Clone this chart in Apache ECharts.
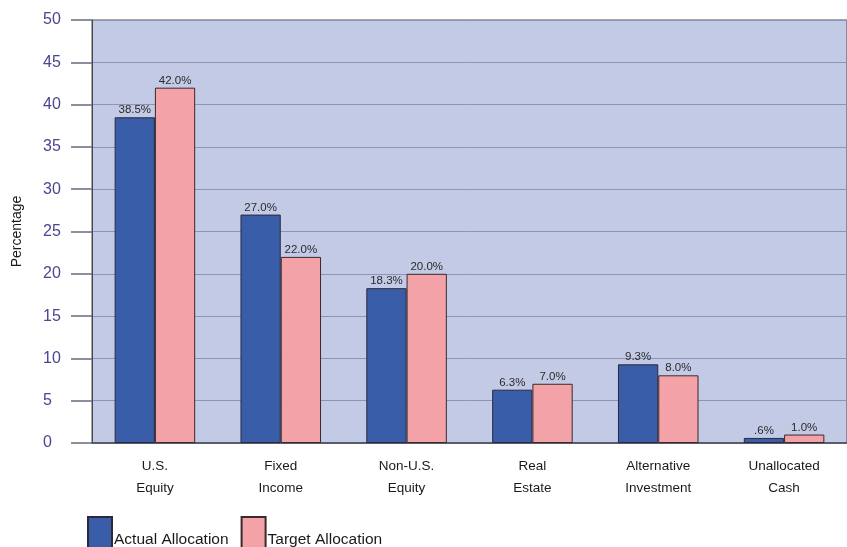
<!DOCTYPE html>
<html>
<head>
<meta charset="utf-8">
<script src="https://cdn.jsdelivr.net/npm/echarts@6/dist/echarts.min.js"></script>
<style>
html,body{margin:0;padding:0;background:#fff;}
#c{width:847px;height:547px;}
</style>
</head>
<body>
<div id="c"></div>
<script>
var categories = ['U.S.\nEquity', 'Fixed\nIncome', 'Non-U.S.\nEquity', 'Real\nEstate', 'Alternative\nInvestment', 'Unallocated\nCash'];
var actualValues = [38.5, 27.0, 18.3, 6.3, 9.3, 0.6];
var targetValues = [42.0, 22.0, 20.0, 7.0, 8.0, 1.0];
var actualLabels = ['38.5%', '27.0%', '18.3%', '6.3%', '9.3%', '.6%'];
var targetLabels = ['42.0%', '22.0%', '20.0%', '7.0%', '8.0%', '1.0%'];
var seriesNames = ['Actual Allocation', 'Target Allocation'];
var yTicks = [0, 5, 10, 15, 20, 25, 30, 35, 40, 45, 50];

var FONT = '"Liberation Sans", Arial, sans-serif';
var chart = echarts.init(document.getElementById('c'));
function lbl(arr) {
  return {
    show: true, position: 'top', distance: 1,
    color: '#2a2a2a', fontFamily: FONT, fontSize: 11.5,
    formatter: function (p) { return arr[p.dataIndex]; }
  };
}
chart.setOption({
  animation: false,
  grid: {
    left: 92, top: 20, right: 0, bottom: 104,
    show: true, backgroundColor: '#c3cae6', borderColor: '#4a4a4a', borderWidth: 1
  },
  legend: {
    left: 87, top: 516, padding: 0,
    itemWidth: 24, itemHeight: 32, itemGap: 12,
    icon: 'rect',
    formatter: '{t|{name}}',
    textStyle: {
      rich: { t: { fontFamily: FONT, fontSize: 15.5, color: '#1a1a1a', padding: [14, 0, 0, -3] } }
    },
    data: seriesNames
  },
  xAxis: {
    type: 'category',
    data: categories,
    axisLine: { lineStyle: { color: '#4a4a5a', width: 1.5 } },
    axisTick: { show: false },
    axisLabel: { fontFamily: FONT, fontSize: 13.5, color: '#1a1a1a', lineHeight: 22, margin: 12 }
  },
  yAxis: {
    type: 'value',
    min: yTicks[0], max: yTicks[yTicks.length - 1], interval: 5,
    name: 'Percentage', nameLocation: 'middle', nameGap: 68, nameRotate: 90,
    nameTextStyle: { fontFamily: FONT, fontSize: 14, color: '#1a1a1a' },
    axisLine: { show: true, lineStyle: { color: '#4a4a4a' } },
    axisTick: { show: true, length: 21, lineStyle: { color: '#6a6a80', width: 1.5 } },
    axisLabel: { fontFamily: FONT, fontSize: 16, color: '#4a4690', margin: 49, align: 'left' },
    splitLine: { lineStyle: { color: '#8f94b4', width: 1 } }
  },
  series: [
    {
      name: seriesNames[0], type: 'bar', data: actualValues,
      barWidth: '32%', barGap: '0%',
      itemStyle: { color: '#3a5daa', borderColor: '#2a2a3a', borderWidth: 1 },
      label: lbl(actualLabels)
    },
    {
      name: seriesNames[1], type: 'bar', data: targetValues,
      barWidth: '32%', barGap: '0%',
      itemStyle: { color: '#f3a3a7', borderColor: '#3a2a2a', borderWidth: 1 },
      label: lbl(targetLabels)
    }
  ]
});
</script>
</body>
</html>
